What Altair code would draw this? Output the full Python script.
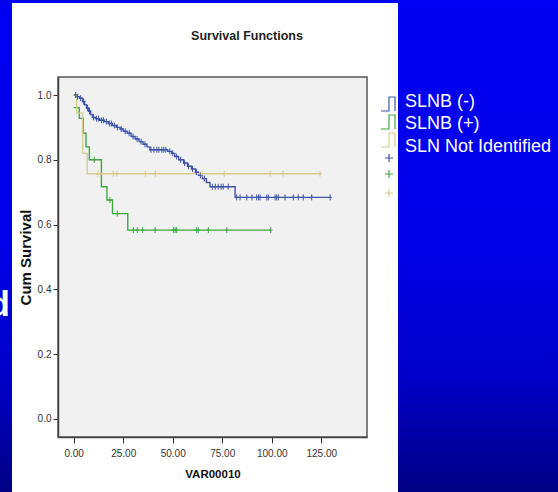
import altair as alt
import pandas as pd

SANS = "'Liberation Sans', Arial, sans-serif"

groups = ["SLNB (-)", "SLNB (+)", "SLN Not Identified"]
colors = ["#3e55a8", "#3ea845", "#d8cc8e"]

# step points (time, cumulative survival)
blue_time = [0, 1.5, 3, 4.5, 5.5, 6.5, 7.5, 8.5, 9.5, 11, 13, 15.5, 17.5, 19.5, 21.5, 23.5, 25,
             27, 29, 31, 33, 35, 37, 38.5, 47.5, 49.5, 51, 53, 55.5, 57.5, 59.5, 61.5, 63, 65,
             67, 68.8, 81.5, 129.5]
blue_surv = [1.0, 0.995, 0.99, 0.98, 0.97, 0.96, 0.95, 0.94, 0.931, 0.927, 0.922, 0.918, 0.912,
             0.906, 0.90, 0.895, 0.888, 0.882, 0.872, 0.864, 0.856, 0.848, 0.84, 0.831, 0.826,
             0.82, 0.81, 0.80, 0.79, 0.78, 0.772, 0.762, 0.752, 0.742, 0.73, 0.717, 0.684, 0.684]
green_time = [0, 2.8, 4.8, 6.2, 7.9, 14, 16.8, 19.6, 27.3, 99.5]
green_surv = [0.961, 0.928, 0.882, 0.84, 0.80, 0.717, 0.676, 0.634, 0.583, 0.583]
yellow_time = [0, 1.5, 4.5, 6.8, 124.4]
yellow_surv = [1.0, 0.944, 0.82, 0.757, 0.757]

# censored times
blue_cens = [1, 2, 3.5, 5, 7, 8, 10, 11.5, 12.5, 14, 15, 16.5, 18, 19, 20.5, 22, 24, 26, 28, 30,
             32, 34, 36, 39, 40.5, 42, 43, 44.5, 45.5, 46.5, 48.5, 50, 52, 54, 56, 58, 60, 62, 64,
             66, 70, 71.5, 73, 74.5, 75.5, 78, 82.3, 84, 87.4, 90, 92.4, 93.3, 94.1, 97.5, 98.3,
             101.7, 102.5, 103.3, 106.7, 110.9, 113.4, 115.9, 120.2, 129.5]
green_cens = [10.4, 18.3, 22, 30.1, 32.1, 34.8, 41.1, 50.3, 51.2, 52, 62.1, 62.9, 68, 77.3, 99.5]
yellow_cens = [12.3, 20, 21.8, 36.2, 41.2, 64.8, 76, 99.2, 105.7, 124.4]

x_ticks = [0, 25, 50, 75, 100, 125]
y_ticks = [0.0, 0.2, 0.4, 0.6, 0.8, 1.0]

series = [
    (groups[0], blue_time, blue_surv, blue_cens),
    (groups[1], green_time, green_surv, green_cens),
    (groups[2], yellow_time, yellow_surv, yellow_cens),
]

line_rows, cens_rows = [], []
for g, ts, ss, cs in series:
    for t, s in zip(ts, ss):
        line_rows.append({"group": g, "time": t, "surv": s})
    for c in cs:
        v = ss[0]
        for t, s in zip(ts, ss):
            if t <= c:
                v = s
        cens_rows.append({"group": g, "time": c, "surv": v})
lines_df = pd.DataFrame(line_rows)
cens_df = pd.DataFrame(cens_rows)
one = pd.DataFrame({"k": [0]})

W, H = 309, 360
xs = alt.Scale(domain=[-7.93, 148.1], nice=False, zero=False)
ys = alt.Scale(domain=[-0.0556, 1.0556], nice=False, zero=False)
cs = alt.Scale(domain=groups, range=colors)

x_axis = alt.Axis(values=x_ticks, format=".2f", title="VAR00010", grid=False, zindex=1,
                  tickSize=6, tickColor="#333", domainColor="#444", domainWidth=1.5,
                  labelFont=SANS, labelFontSize=10, labelColor="#333", labelPadding=5,
                  titleFont=SANS, titleFontWeight="bold", titleFontSize=11.5, titleColor="#111",
                  titleBaseline="top", titleY=31)
y_axis = alt.Axis(values=y_ticks, format=".1f", title="Cum Survival", grid=False, zindex=1,
                  tickSize=5, tickColor="#333", domainColor="#444", domainWidth=1.5,
                  labelFont=SANS, labelFontSize=10, labelColor="#333", labelPadding=2,
                  titleFont=SANS, titleFontWeight="bold", titleFontSize=15, titleColor="#111",
                  titleX=-25, titleY=H / 2, titleAngle=270, titleBaseline="bottom", titleAlign="center")

bg = alt.Chart(one).mark_rect(
    fill=alt.Gradient(gradient="linear", x1=0, x2=0, y1=0, y2=1,
                      stops=[alt.GradientStop(color="#0000f2", offset=0),
                             alt.GradientStop(color="#0000e8", offset=0.5),
                             alt.GradientStop(color="#0000c8", offset=0.77),
                             alt.GradientStop(color="#000084", offset=1)])
).encode(x=alt.value(-58), x2=alt.value(500), y=alt.value(-77), y2=alt.value(415))

panel = alt.Chart(one).mark_rect(fill="white").encode(
    x=alt.value(-46), x2=alt.value(340), y=alt.value(-74), y2=alt.value(420))

plotbg = alt.Chart(one).mark_rect(fill="#f1f1f1", stroke="#555555", strokeWidth=1.5).encode(
    x=alt.value(0), x2=alt.value(W), y=alt.value(0), y2=alt.value(H))

lines = alt.Chart(lines_df).mark_line(interpolate="step-after", strokeWidth=1.4).encode(
    x=alt.X("time:Q", scale=xs, axis=x_axis),
    y=alt.Y("surv:Q", scale=ys, axis=y_axis),
    color=alt.Color("group:N", scale=cs, legend=None),
)

cens = alt.Chart(cens_df).mark_point(shape="M-0.6,0L0.6,0M0,-1L0,1", size=36, filled=False,
                                     strokeWidth=1, opacity=1).encode(
    x=alt.X("time:Q", scale=xs),
    y=alt.Y("surv:Q", scale=ys),
    color=alt.Color("group:N", scale=cs, legend=None),
)

title = alt.Chart(one).mark_text(text="Survival Functions", font=SANS, fontSize=12.5,
                                 fontWeight="bold", color="#222", align="center",
                                 baseline="alphabetic").encode(x=alt.value(189), y=alt.value(-37))

frag = alt.Chart(one).mark_text(text="d", font=SANS, fontSize=35, fontWeight="bold",
                                color="white", align="right", baseline="alphabetic").encode(
    x=alt.value(-48), y=alt.value(239))

legend_layers = []
step_shape = "M-1,0.875L0,0.875L0,-0.875L0.75,-0.875L0.75,0.875"
plus_shape = "M-0.5,0L0.5,0M0,-0.5L0,0.5"
step_y = [27, 45, 63]
plus_y = [81, 97, 116]
label_y = [30.3, 52.3, 74.7]
for i, g in enumerate(groups):
    legend_layers.append(alt.Chart(one).mark_point(shape=step_shape, size=256, filled=False,
                                                   stroke=colors[i], strokeWidth=1.2, opacity=1)
                         .encode(x=alt.value(331), y=alt.value(step_y[i])))
    legend_layers.append(alt.Chart(one).mark_point(shape=plus_shape, size=256, filled=False,
                                                   stroke=colors[i], strokeWidth=1.2, opacity=1)
                         .encode(x=alt.value(331), y=alt.value(plus_y[i])))
    legend_layers.append(alt.Chart(one).mark_text(text=g, font=SANS, fontSize=18, color="white",
                                                  align="left", baseline="alphabetic")
                         .encode(x=alt.value(347), y=alt.value(label_y[i])))

chart = alt.layer(bg, panel, plotbg, lines, cens, title, frag, *legend_layers).properties(
    width=W, height=H,
    padding={"left": 58, "top": 77, "right": 191, "bottom": 55},
    autosize=alt.AutoSizeParams(type="none"),
    background="#0000ee",
).configure_view(stroke=None)

chart.save("out.html", embed_options={"renderer": "svg", "actions": False})
